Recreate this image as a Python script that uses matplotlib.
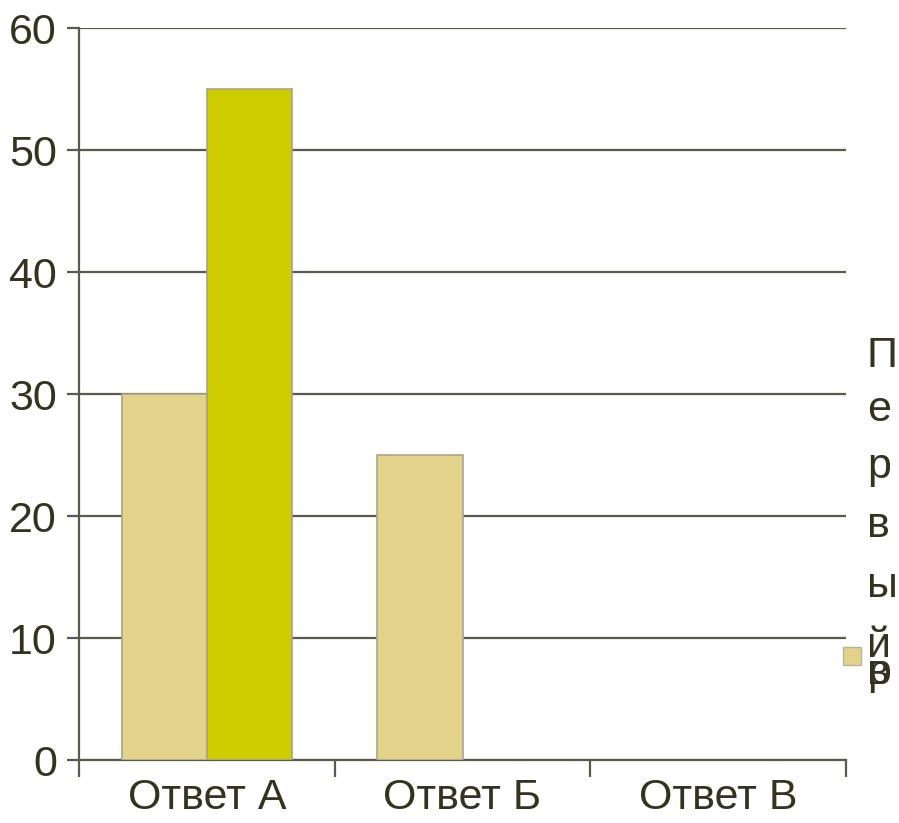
import numpy as np
import matplotlib.pyplot as plt
from matplotlib.patches import Rectangle

# данные
categories = ['Ответ А', 'Ответ Б', 'Ответ В']
series1 = [30, 25, 0]
series2 = [55, 0, 0]
yticks = [0, 10, 20, 30, 40, 50, 60]
legend_chars = ['П', 'е', 'р', 'в', 'ы', 'й']

W, H = 899, 823
txt_col = '#33331f'
grid_col = '#5a5a4a'
fs = 31

plt.rcParams['font.family'] = ['Liberation Sans', 'DejaVu Sans']

fig = plt.figure(figsize=(W / 100, H / 100), dpi=100)
ax = fig.add_axes([79 / W, 1 - 760 / H, (846 - 79) / W, (760 - 28) / H])

x = np.arange(len(categories))
bw = 1 / 3
# у нулевых столбцов контур не рисуем
lw1 = [1.2 if v else 0 for v in series1]
lw2 = [1.2 if v else 0 for v in series2]
ax.bar(x - bw / 2, series1, width=bw, color='#e3d38a', edgecolor='#a8a38a', linewidth=lw1, zorder=3)
ax.bar(x + bw / 2, series2, width=bw, color='#cfcd00', edgecolor='#a8a38a', linewidth=lw2, zorder=3)

ax.set_xlim(-0.5, len(categories) - 0.5)
ax.set_ylim(0, 60)
ax.set_yticks(yticks)
ax.set_yticklabels([str(v) for v in yticks], fontsize=fs, color=txt_col)
ax.yaxis.grid(True, color=grid_col, linewidth=1.6, zorder=0)

ax.set_xticks(np.arange(-0.5, len(categories), 1.0))
ax.set_xticklabels([])
ax.set_xticks(x, minor=True)
ax.set_xticklabels(categories, minor=True, fontsize=fs, color=txt_col)
ax.tick_params(axis='x', which='minor', length=0, pad=13)
ax.tick_params(axis='x', which='major', length=12, width=1.6, color=grid_col)
ax.tick_params(axis='y', length=9, width=1.6, color=grid_col, pad=7)

for s in ['top', 'right']:
    ax.spines[s].set_visible(False)
for s in ['left', 'bottom']:
    ax.spines[s].set_color(grid_col)
    ax.spines[s].set_linewidth(1.6)
ax.set_axisbelow(True)

# легенда (текст, разбитый по буквам)
base_y = [367, 421, 478, 537, 597, 657]
for ch, yb in zip(legend_chars, base_y):
    fig.text(867 / W, 1 - yb / H, ch, fontsize=fs, color=txt_col, va='baseline', ha='left')
fig.text(867 / W, 1 - 684 / H, 'в', fontsize=fs, color=txt_col, va='baseline', ha='left')
fig.text(867 / W, 1 - 684 / H, 'р', fontsize=fs, color=txt_col, va='baseline', ha='left')
fig.patches.append(Rectangle((843 / W, 1 - 665 / H), 18 / W, 18 / H, transform=fig.transFigure,
                             facecolor='#e3d38a', edgecolor='#b8b39a', linewidth=1))

fig.savefig('out.png', dpi=100)
